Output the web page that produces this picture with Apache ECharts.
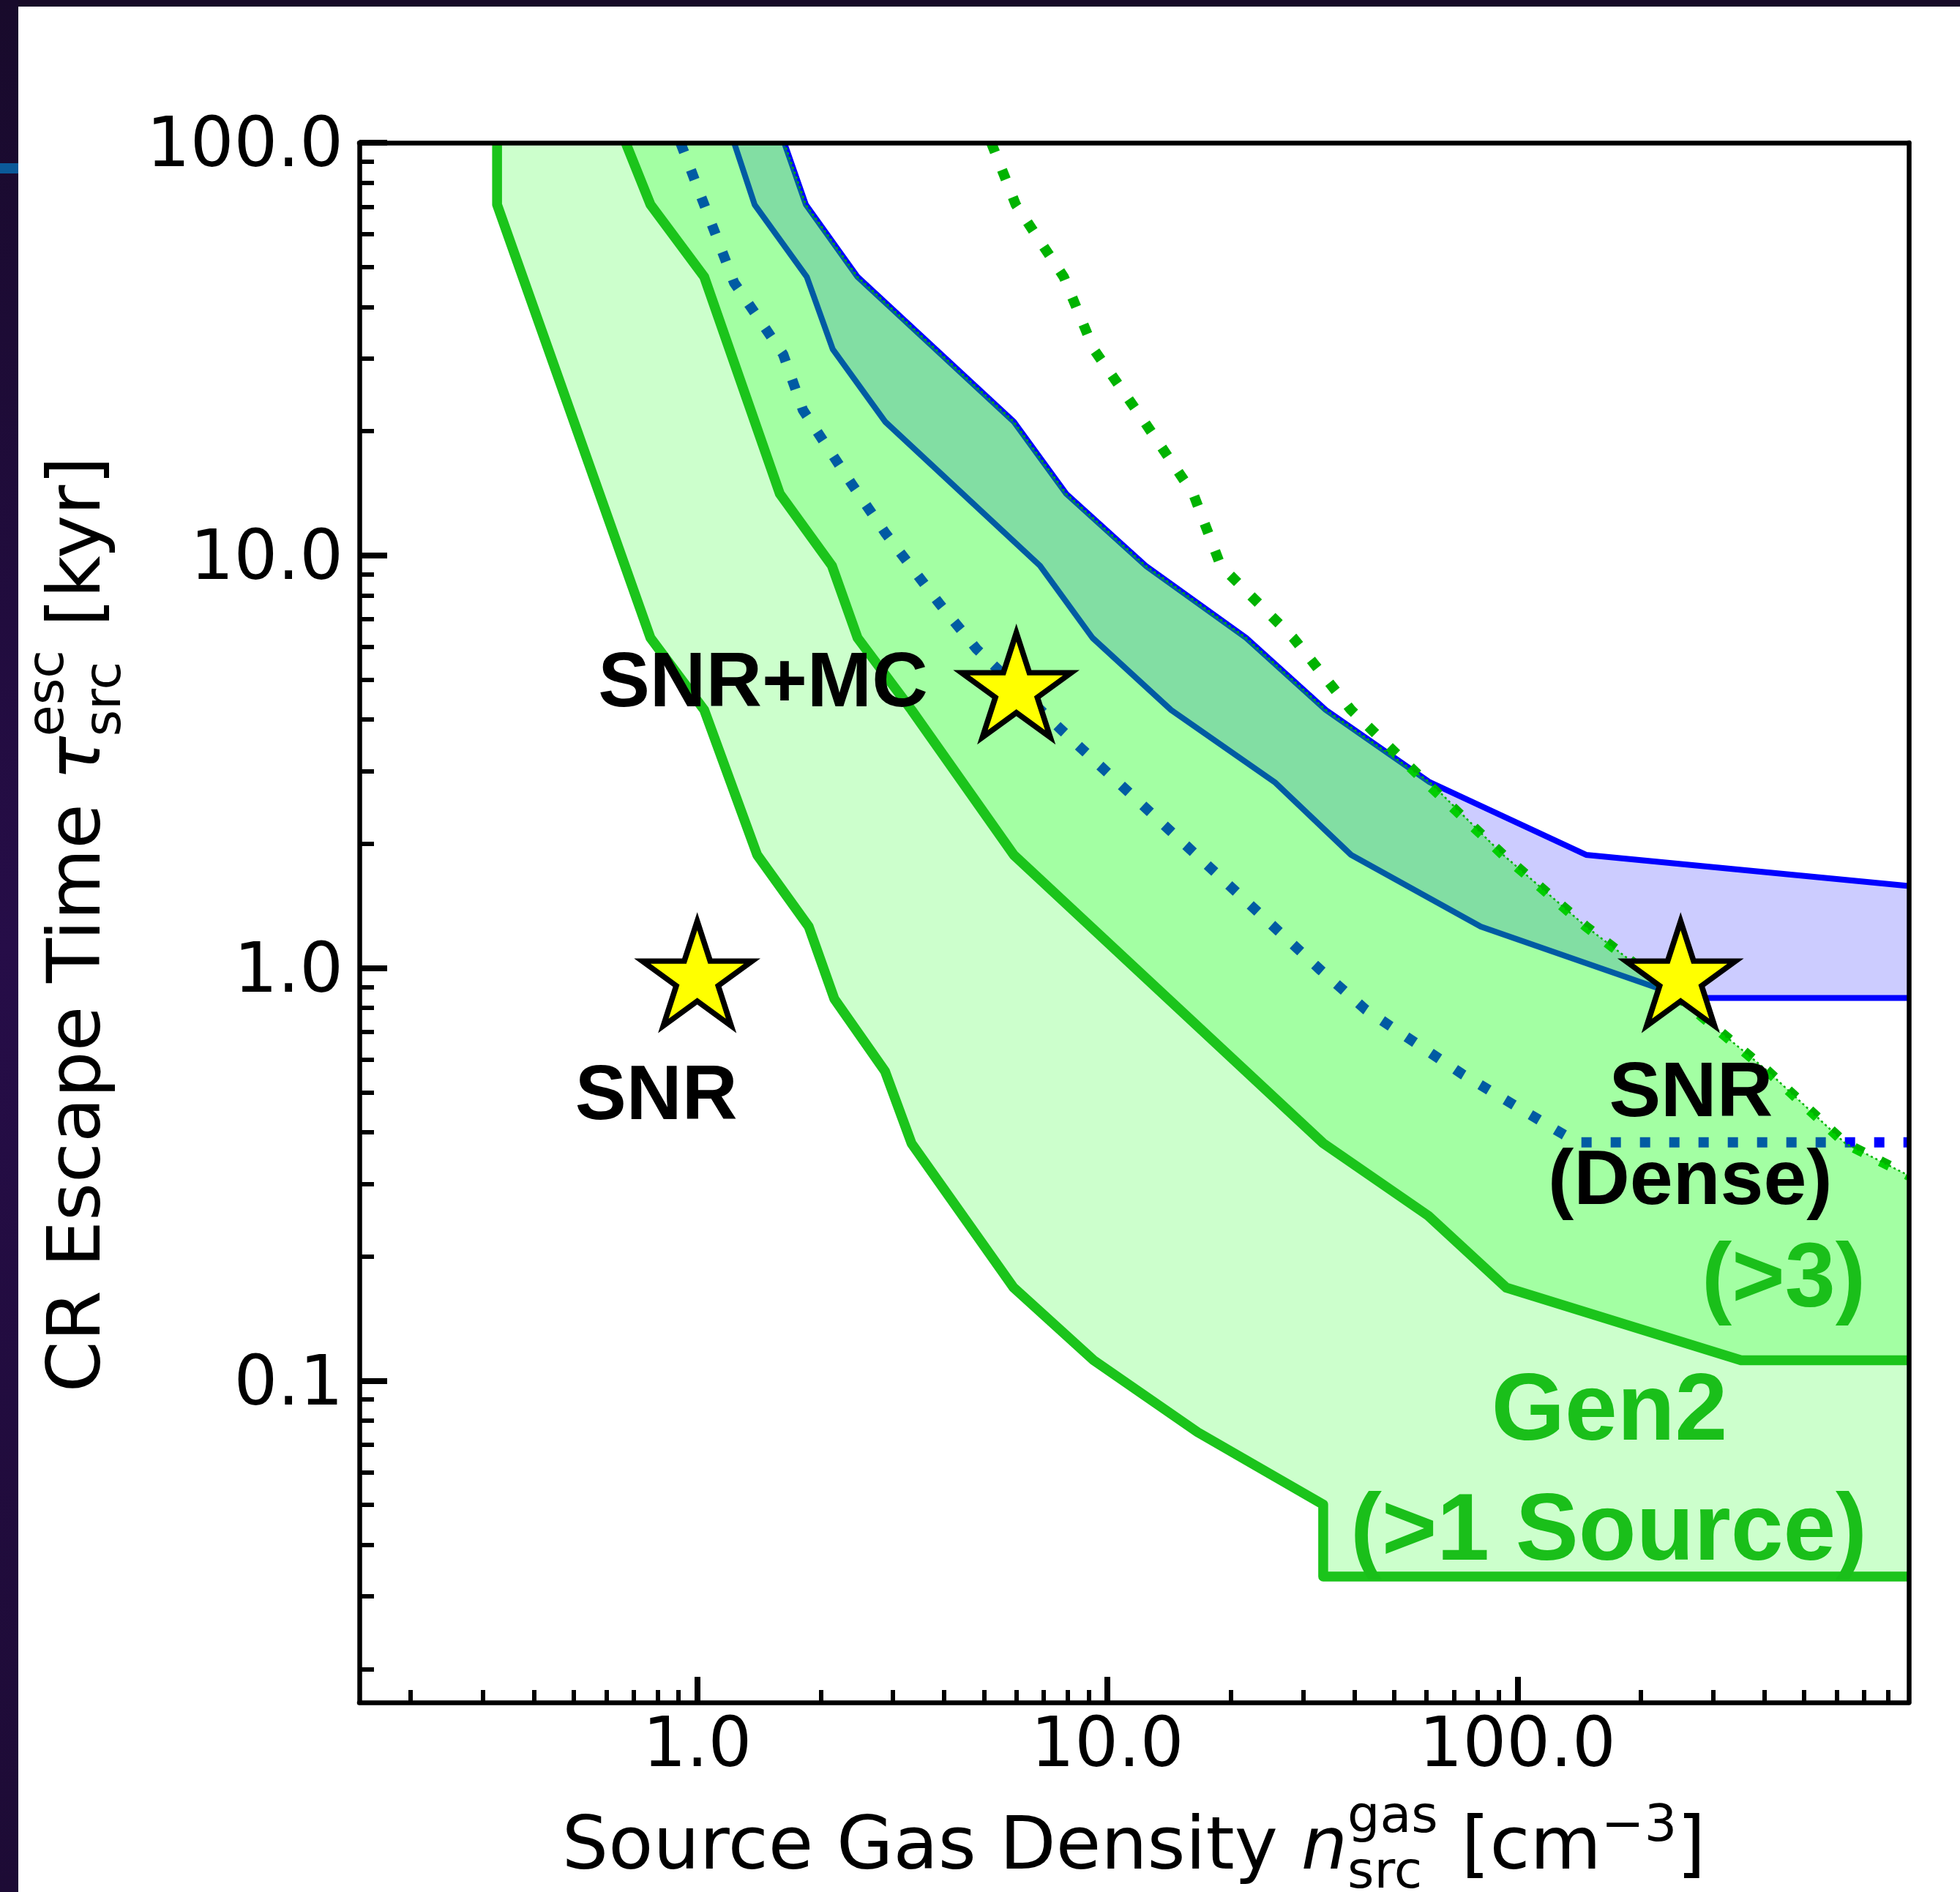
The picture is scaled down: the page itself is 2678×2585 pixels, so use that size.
<!DOCTYPE html>
<html>
<head>
<meta charset="utf-8">
<script src="https://cdn.jsdelivr.net/npm/echarts@6/dist/echarts.min.js"></script>
<style>
  html, body { margin: 0; padding: 0; background: #ffffff; }
  #chart { width: 2678px; height: 2585px; }
</style>
</head>
<body>
<div id="chart"></div>
<script>
// Source gas density n [cm^-3] vs CR escape time tau [kyr]

// Upper edge of the single-source band (solid blue)
const blueUpper = [[1.63, 100], [1.84, 70.8], [2.46, 47.3], [5.91, 21.1], [7.94, 14.1], [12.4, 9.44],
  [21.8, 6.31], [34.1, 4.22], [61.1, 2.82], [147, 1.88], [900, 1.58]];
// Lower edge of the single-source band (solid blue)
const blueLower = [[1.23, 100], [1.38, 70.8], [1.85, 47.3], [2.14, 31.6], [2.87, 21.1], [6.85, 9.44],
  [9.20, 6.31], [14.3, 4.22], [25.6, 2.82], [39.3, 1.88], [81.4, 1.26], [258, 0.846], [900, 0.846]];
// Blue dotted curve
const blueDotted = [[0.91, 100], [1.23, 45.8], [1.62, 30.7], [1.81, 22.5], [2.38, 14.9], [2.88, 11.3],
  [3.89, 7.65], [4.80, 5.93], [7.74, 3.77], [33.2, 0.986], [42.7, 0.792], [73.2, 0.554], [129, 0.396],
  [140, 0.378], [900, 0.378]];
// Green dotted curve (upper limit of the Gen2 regions)
const greenDotted = [[5.21, 100], [5.98, 70.8], [7.83, 47.3], [9.26, 31.6], [12.3, 21.1], [16.2, 14.1],
  [18.9, 9.44], [28.4, 6.31], [39.3, 4.22], [59.8, 2.82], [92.3, 1.88], [147, 1.26], [250, 0.841],
  [408, 0.562], [630, 0.376], [900, 0.314]];
// Gen2 (>1 source) boundary
const gen2Edge = [[0.325, 100], [0.325, 70.8], [0.769, 6.31], [1.04, 4.22], [1.40, 1.88], [1.87, 1.26],
  [2.16, 0.841], [2.87, 0.562], [3.33, 0.376], [5.91, 0.168], [9.26, 0.112], [16.6, 0.075],
  [33.6, 0.0501], [33.6, 0.0335], [900, 0.0335]];
// Gen2 (>3 sources) boundary
const gen2Edge3 = [[0.669, 100], [0.769, 70.8], [1.04, 47.3], [1.59, 14.1], [2.13, 9.44], [2.46, 6.31],
  [3.33, 4.22], [5.91, 1.88], [33.6, 0.376], [60.6, 0.251], [93.9, 0.168], [351, 0.112], [900, 0.112]];
// Source classes
const sourceNames = ['SNR', 'SNR+MC', 'SNR (Dense)'];
const sourcePoints = [[1.0, 1.0], [6.0, 5.0], [250, 1.0]];

// Axes
const xRange = [0.15, 900];
const yRange = [0.0166, 100];
const xMajorTicks = [1, 10, 100];
const xTickLabels = ['1.0', '10.0', '100.0'];
const xMinorTicks = [0.2, 0.3, 0.4, 0.5, 0.6, 0.7, 0.8, 0.9, 2, 3, 4, 5, 6, 7, 8, 9,
  20, 30, 40, 50, 60, 70, 80, 90, 200, 300, 400, 500, 600, 700, 800];
const yMajorTicks = [0.1, 1, 10, 100];
const yTickLabels = ['0.1', '1.0', '10.0', '100.0'];
const yMinorTicks = [0.02, 0.03, 0.04, 0.05, 0.06, 0.07, 0.08, 0.09, 0.2, 0.3, 0.4, 0.5, 0.6, 0.7, 0.8, 0.9,
  2, 3, 4, 5, 6, 7, 8, 9, 20, 30, 40, 50, 60, 70, 80, 90];

const lg = Math.log10;
const toLog = pts => pts.map(p => [lg(p[0]), lg(p[1])]);

// Top boundary shared by both Gen2 regions: blue upper edge, then the green dotted limit
const gen2Top = blueUpper.slice(0, 9).concat(greenDotted.slice(10));
const gen2Region = gen2Edge.concat(gen2Top.slice().reverse());
const gen2Region3 = gen2Edge3.concat(gen2Top.slice().reverse());
const blueBand = blueUpper.concat(blueLower.slice().reverse());

const GREEN_LINE = '#1bc41b';
const GREEN_DOT = '#00b300';
const BLUE = '#0000ff';

function polygonSeries(name, pts, fill, z) {
  const data = toLog(pts);
  return {
    type: 'custom', name, z, silent: true, data,
    encode: { x: 0, y: 1 },
    renderItem(params, api) {
      if (params.dataIndex !== 0) return null;
      return {
        type: 'polygon',
        shape: { points: data.map(d => api.coord(d)) },
        style: { fill: fill, stroke: null }
      };
    }
  };
}

function lineSeries(name, pts, lineStyle, z) {
  return {
    type: 'line', name, z, silent: true, data: toLog(pts),
    symbol: 'none', showSymbol: false, clip: true,
    lineStyle: Object.assign({ join: 'round' }, lineStyle)
  };
}

// Five-pointed star, inner radius 0.382 of the outer one
const starPath = 'path://M0,-100L22.45,-30.9L95.11,-30.9L36.33,11.8L58.78,80.9L0,38.2L-58.78,80.9L-36.33,11.8L-95.11,-30.9L-22.45,-30.9Z';

const majorFmt = (ticks, labels) => v => {
  let best = 0;
  ticks.forEach((t, i) => { if (Math.abs(lg(t) - v) < Math.abs(lg(ticks[best]) - v)) best = i; });
  return labels[best];
};

const axisFont = { fontFamily: 'DejaVu Sans', fontSize: 94, color: '#000' };

const chart = echarts.init(document.getElementById('chart'), null, { renderer: 'canvas', width: 2678, height: 2585 });

chart.setOption({
  animation: false,
  backgroundColor: '#ffffff',
  grid: { left: 491, top: 195, width: 2117, height: 2131, show: false },
  xAxis: [
    {
      type: 'value', min: lg(xRange[0]), max: lg(xRange[1]), position: 'bottom', z: 10,
      axisLine: { show: true, onZero: false, lineStyle: { color: '#000', width: 6.5 } },
      axisTick: { show: true, inside: true, length: 35, customValues: xMajorTicks.map(lg), lineStyle: { color: '#000', width: 8 } },
      axisLabel: Object.assign({ show: true, margin: 16, customValues: xMajorTicks.map(lg), formatter: majorFmt(xMajorTicks, xTickLabels) }, axisFont),
      splitLine: { show: false }
    },
    {
      type: 'value', min: lg(xRange[0]), max: lg(xRange[1]), position: 'bottom', offset: 0, z: 10,
      axisLine: { show: false, onZero: false }, axisLabel: { show: false }, splitLine: { show: false },
      axisTick: { show: true, inside: true, length: 17, customValues: xMinorTicks.map(lg), lineStyle: { color: '#000', width: 6 } }
    },
    {
      type: 'value', min: lg(xRange[0]), max: lg(xRange[1]), position: 'top', offset: 0, z: 10,
      axisLine: { show: true, onZero: false, lineStyle: { color: '#000', width: 6.5 } },
      axisTick: { show: false }, axisLabel: { show: false }, splitLine: { show: false }
    }
  ],
  yAxis: [
    {
      type: 'value', min: lg(yRange[0]), max: lg(yRange[1]), position: 'left', z: 10,
      axisLine: { show: true, onZero: false, lineStyle: { color: '#000', width: 6.5 } },
      axisTick: { show: true, inside: true, length: 38, customValues: yMajorTicks.map(lg), lineStyle: { color: '#000', width: 8 } },
      axisLabel: Object.assign({ show: true, margin: 22, verticalAlign: 'top', lineHeight: 16, customValues: yMajorTicks.map(lg), formatter: majorFmt(yMajorTicks, yTickLabels) }, axisFont),
      splitLine: { show: false }
    },
    {
      type: 'value', min: lg(yRange[0]), max: lg(yRange[1]), position: 'left', offset: 0, z: 10,
      axisLine: { show: false, onZero: false }, axisLabel: { show: false }, splitLine: { show: false },
      axisTick: { show: true, inside: true, length: 20, customValues: yMinorTicks.map(lg), lineStyle: { color: '#000', width: 6 } }
    },
    {
      type: 'value', min: lg(yRange[0]), max: lg(yRange[1]), position: 'right', offset: 0, z: 10,
      axisLine: { show: true, onZero: false, lineStyle: { color: '#000', width: 6.5 } },
      axisTick: { show: false }, axisLabel: { show: false }, splitLine: { show: false }
    }
  ],
  series: [
    polygonSeries('single source band', blueBand, 'rgba(0,0,255,0.2)', 1),
    lineSeries('single source upper', blueUpper, { color: BLUE, width: 8 }, 2),
    lineSeries('single source lower', blueLower, { color: BLUE, width: 8 }, 2),
    lineSeries('single source dotted', blueDotted, { color: BLUE, width: 14, type: [14, 26], cap: 'butt' }, 2),
    lineSeries('Gen2 limit', greenDotted, { color: GREEN_DOT, width: 14, type: [14, 26], cap: 'butt' }, 2),
    polygonSeries('Gen2 (>1 Source)', gen2Region, 'rgba(0,255,0,0.2)', 3),
    polygonSeries('Gen2 (>3)', gen2Region3, 'rgba(0,255,0,0.2)', 3),
    lineSeries('Gen2 (>1 Source) edge', gen2Edge, { color: GREEN_LINE, width: 13.5 }, 4),
    lineSeries('Gen2 (>3) edge', gen2Edge3, { color: GREEN_LINE, width: 13.5 }, 4),
    lineSeries('Gen2 top edge', gen2Top, { color: '#00b400', width: 2.5, type: [3, 4], cap: 'butt' }, 4),
    {
      type: 'scatter', name: 'sources', z: 5, silent: true,
      data: toLog(sourcePoints).map((p, i) => ({ name: sourceNames[i], value: p })),
      symbol: starPath, symbolSize: [150, 143], symbolOffset: [0, 7.5],
      itemStyle: { color: '#ffff00', borderColor: '#000000', borderWidth: 7.5, borderJoin: 'miter', borderMiterLimit: 10, opacity: 1 }
    }
  ]
});

// ---- text: annotations and axis titles ----
const measureCtx = document.createElement('canvas').getContext('2d');
function textWidth(text, size, family, italic, bold) {
  measureCtx.font = (italic ? 'italic ' : '') + (bold ? 'bold ' : '') + size + 'px "' + family + '"';
  return measureCtx.measureText(text).width;
}
const MID = 0.28; // distance from the middle line to the alphabetic baseline, in em
function textAt(text, x, baseline, size, o) {
  o = o || {};
  return {
    type: 'text', z: 100, silent: true, x: x, y: baseline - MID * size,
    style: {
      text: text, fontSize: size, fontFamily: o.family || 'Liberation Sans',
      fontWeight: o.bold ? 'bold' : 'normal', fontStyle: o.italic ? 'italic' : 'normal',
      fill: o.color || '#000', align: o.align || 'left', verticalAlign: 'middle'
    }
  };
}
function mathTitle(parts, main, small, supDy, subDy) {
  const fam = 'DejaVu Sans';
  let x = 0;
  const kids = [];
  parts.forEach(p => {
    if (p.t !== undefined) {
      kids.push(textAt(p.t, x, 0, main, { family: fam, italic: p.italic }));
      x += textWidth(p.t, main, fam, p.italic);
    } else {
      let w = 0;
      if (p.sup) { kids.push(textAt(p.sup, x, p.supDy !== undefined ? p.supDy : supDy, small, { family: fam })); w = Math.max(w, textWidth(p.sup, small, fam)); }
      if (p.sub) { kids.push(textAt(p.sub, x, subDy, small, { family: fam })); w = Math.max(w, textWidth(p.sub, small, fam)); }
      x += w;
    }
  });
  return { kids, width: x };
}

const xTitle = mathTitle([
  { t: 'Source Gas Density ' }, { t: 'n', italic: true }, { sup: 'gas', sub: 'src' },
  { t: ' [cm' }, { sup: '\u22123', supDy: -39 }, { t: ']' }
], 100, 70, -51, 25);
const yTitle = mathTitle([
  { t: 'CR Escape Time ' }, { t: '\u03c4', italic: true }, { sup: 'esc', sub: 'src' }, { t: ' [kyr]' }
], 100, 70, -51, 27);

const px = p => chart.convertToPixel({ xAxisIndex: 0, yAxisIndex: 0 }, [lg(p[0]), lg(p[1])]);
const sSNR = px(sourcePoints[0]);
const sMC = px(sourcePoints[1]);
const sDense = px(sourcePoints[2]);
const black = { bold: true, color: '#000' };
const green = { bold: true, color: '#1abf1a' };

chart.setOption({
  graphic: [
    // window frame
    { type: 'rect', z: 0, silent: true, shape: { x: 0, y: 0, width: 2678, height: 9 }, style: { fill: '#170a27' } },
    { type: 'rect', z: 0, silent: true, shape: { x: 0, y: 0, width: 25, height: 2585 },
      style: { fill: new echarts.graphic.LinearGradient(0, 0, 0, 1, [
        { offset: 0, color: '#180a2b' }, { offset: 0.5, color: '#260d48' }, { offset: 1, color: '#1d0b35' }]) } },
    { type: 'rect', z: 1, silent: true, shape: { x: 0, y: 223, width: 25, height: 14 }, style: { fill: '#0b5a99' } },
    // axis titles
    { type: 'group', z: 100, x: 1549 - xTitle.width / 2, y: 2555, children: xTitle.kids },
    { type: 'group', z: 100, x: 138, y: 1263 + yTitle.width / 2, rotation: Math.PI / 2, children: yTitle.kids },
    // source labels
    textAt('SNR', sSNR[0] - 56, sSNR[1] + 207, 105, Object.assign({ align: 'center' }, black)),
    textAt('SNR+MC', sMC[0] - 121, sMC[1] + 37, 106, Object.assign({ align: 'right' }, black)),
    textAt('SNR', sDense[0] + 14, sDense[1] + 203, 106, Object.assign({ align: 'center' }, black)),
    textAt('(Dense)', sDense[0] + 13, sDense[1] + 323, 106, Object.assign({ align: 'center' }, black)),
    // region labels
    textAt('(>3)', 2549, 1786, 124, Object.assign({ align: 'right' }, green)),
    textAt('Gen2', 2199, 1968, 129, Object.assign({ align: 'center' }, green)),
    textAt('(>1 Source)', 2198, 2132, 129, Object.assign({ align: 'center' }, green))
  ]
});
</script>
</body>
</html>
